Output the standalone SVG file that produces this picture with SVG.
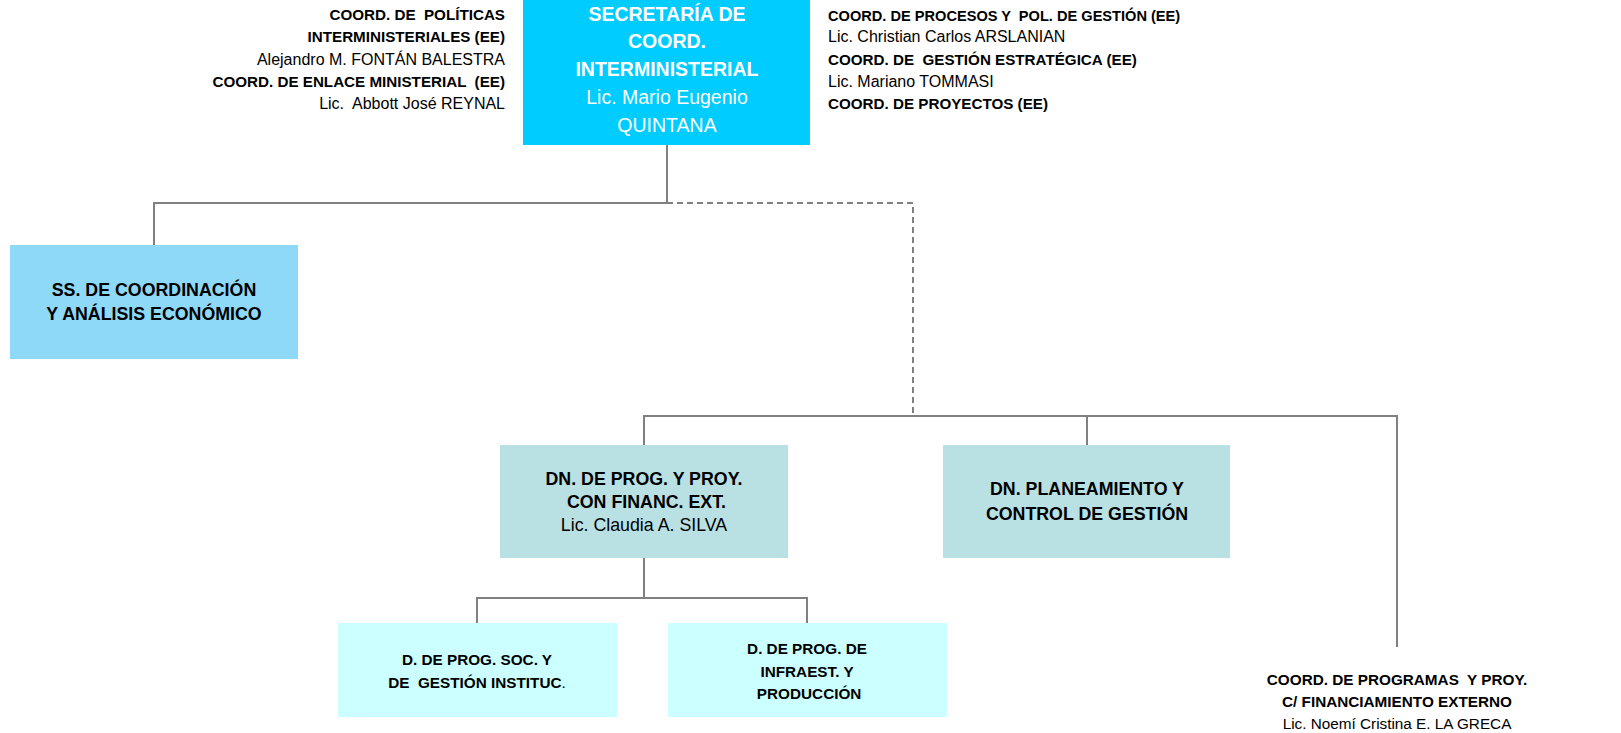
<svg xmlns="http://www.w3.org/2000/svg" width="1621" height="733" viewBox="0 0 1621 733">
<style>
text{font-family:"Liberation Sans",Arial,sans-serif;fill:#000;white-space:pre}
.b{font-weight:bold}
.side{font-size:16px}
.side.b{font-size:15.2px}
.top{font-size:19.5px;fill:#fff;text-anchor:middle}
.box{font-size:17.8px;text-anchor:middle}
.sm{font-size:15.3px;text-anchor:middle}
.ln{stroke:#808080;stroke-width:2;fill:none}
.dash{stroke-dasharray:6 4}
</style>
<rect width="1621" height="733" fill="#fff"/>
<g id="connectors">
<path class="ln" d="M667 145V203H154V245"/>
<path class="ln dash" d="M667 203H913V416"/>
<path class="ln" d="M644 445V416H1397V647"/>
<path class="ln" d="M1087 416V445"/>
<path class="ln" d="M644 558V598"/>
<path class="ln" d="M477 623V598H807V623"/>
</g>
<g id="n-secretaria">
<rect x="523" y="0" width="287" height="145" fill="#00CCFF"/>
<text class="top b" x="667" y="21">SECRETARÍA DE</text>
<text class="top b" x="667" y="48">COORD.</text>
<text class="top b" x="667" y="76">INTERMINISTERIAL</text>
<text class="top" x="667" y="104">Lic. Mario Eugenio</text>
<text class="top" x="667" y="132">QUINTANA</text>
</g>
<g id="n-coord-left" text-anchor="end">
<text class="side b" x="505" y="20">COORD. DE  POLÍTICAS</text>
<text class="side b" x="505" y="42">INTERMINISTERIALES (EE)</text>
<text class="side" x="505" y="65">Alejandro M. FONTÁN BALESTRA</text>
<text class="side b" x="505" y="87">COORD. DE ENLACE MINISTERIAL  (EE)</text>
<text class="side" x="505" y="109">Lic.  Abbott José REYNAL</text>
</g>
<g id="n-coord-right">
<text class="side b" x="828" y="21" style="font-size:14.6px">COORD. DE PROCESOS Y  POL. DE GESTIÓN (EE)</text>
<text class="side" x="828" y="42">Lic. Christian Carlos ARSLANIAN</text>
<text class="side b" x="828" y="65">COORD. DE  GESTIÓN ESTRATÉGICA (EE)</text>
<text class="side" x="828" y="87">Lic. Mariano TOMMASI</text>
<text class="side b" x="828" y="109">COORD. DE PROYECTOS (EE)</text>
</g>
<g id="n-ss">
<rect x="10" y="245" width="288" height="114" fill="#8ED9F8"/>
<text class="box b" x="154" y="296">SS. DE COORDINACIÓN</text>
<text class="box b" x="154" y="320">Y ANÁLISIS ECONÓMICO</text>
</g>
<g id="n-dn-prog">
<rect x="500" y="445" width="288" height="113" fill="#B9E0E3"/>
<text class="box b" x="644" y="485">DN. DE PROG. Y PROY.</text>
<text class="box b" x="644" y="508"> CON FINANC. EXT.</text>
<text class="box" x="644" y="531">Lic. Claudia A. SILVA</text>
</g>
<g id="n-dn-plan">
<rect x="943" y="445" width="287" height="113" fill="#B9E0E3"/>
<text class="box b" x="1087" y="495">DN. PLANEAMIENTO Y</text>
<text class="box b" x="1087" y="520">CONTROL DE GESTIÓN</text>
</g>
<g id="n-d-soc">
<rect x="338" y="623" width="279" height="94" fill="#CCFFFF"/>
<text class="sm b" x="477" y="665">D. DE PROG. SOC. Y</text>
<text class="sm b" x="477" y="688">DE  GESTIÓN INSTITUC<tspan font-weight="normal">.</tspan></text>
</g>
<g id="n-d-infra">
<rect x="668" y="623" width="279" height="94" fill="#CCFFFF"/>
<text class="sm b" x="807" y="654">D. DE PROG. DE</text>
<text class="sm b" x="807" y="677">INFRAEST. Y</text>
<text class="sm b" x="807" y="699"> PRODUCCIÓN</text>
</g>
<g id="n-coord-prog">
<text class="sm b" x="1397" y="685">COORD. DE PROGRAMAS  Y PROY.</text>
<text class="sm b" x="1397" y="707">C/ FINANCIAMIENTO EXTERNO</text>
<text class="sm" x="1397" y="729">Lic. Noemí Cristina E. LA GRECA</text>
</g>
</svg>
